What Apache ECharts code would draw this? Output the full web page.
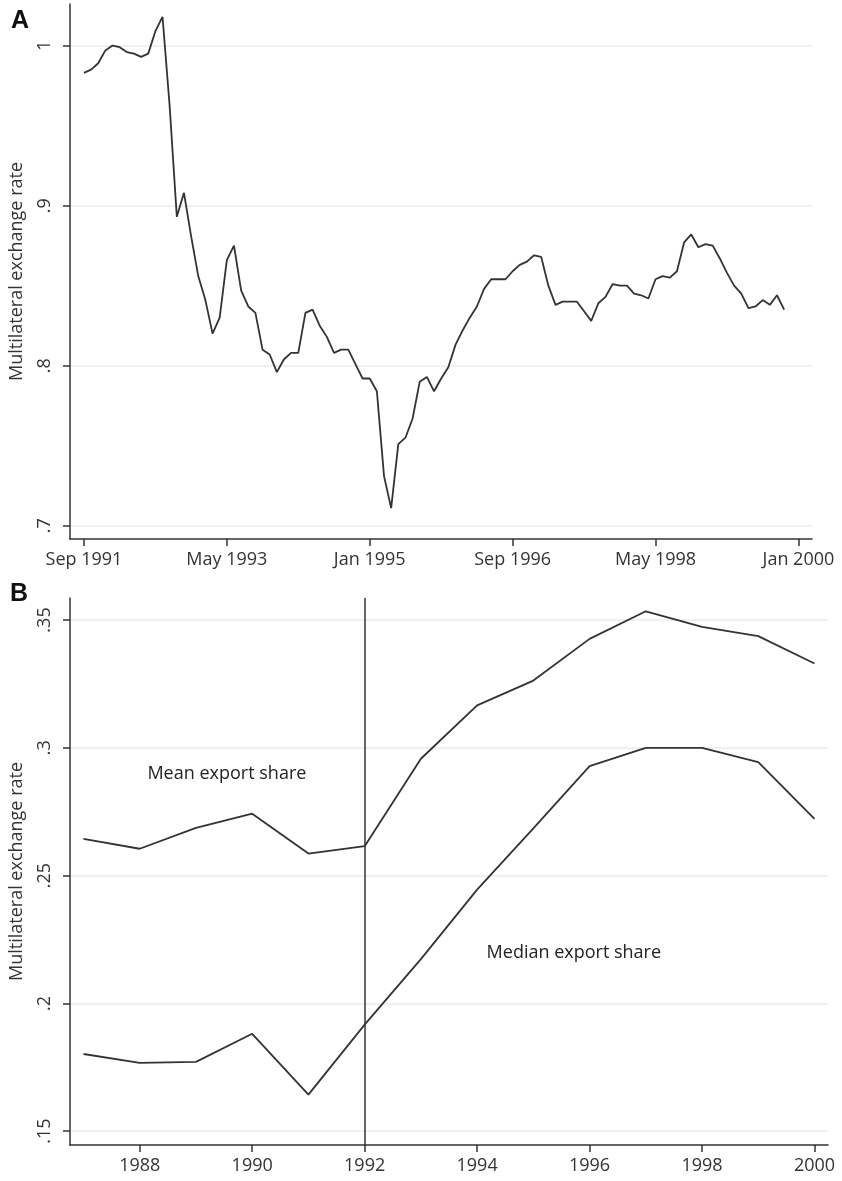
<!DOCTYPE html>
<html>
<head>
<meta charset="utf-8">
<script src="https://cdn.jsdelivr.net/npm/echarts@6/dist/echarts.min.js"></script>
<style>
  html, body { margin: 0; padding: 0; background: #fff; }
  #chart { width: 842px; height: 1181px; }
</style>
</head>
<body>
<div id="chart"></div>
<script>
// panel A: multilateral exchange rate, monthly from Sep 1991 (index 0)
var rateValues = [
  0.983, 0.985, 0.989, 0.997, 1.000, 0.999, 0.996, 0.995, 0.993, 0.995,
  1.009, 1.018, 0.962, 0.893, 0.908, 0.881, 0.856, 0.841, 0.820, 0.830,
  0.866, 0.875, 0.847, 0.837, 0.833, 0.810, 0.807, 0.796, 0.804, 0.808,
  0.808, 0.833, 0.835, 0.825, 0.818, 0.808, 0.810, 0.810, 0.801, 0.792,
  0.792, 0.784, 0.731, 0.711, 0.751, 0.755, 0.767, 0.790, 0.793, 0.784,
  0.792, 0.799, 0.813, 0.822, 0.830, 0.837, 0.848, 0.854, 0.854, 0.854,
  0.859, 0.863, 0.865, 0.869, 0.868, 0.850, 0.838, 0.840, 0.840, 0.840,
  0.834, 0.828, 0.839, 0.843, 0.851, 0.850, 0.850, 0.845, 0.844, 0.842,
  0.854, 0.856, 0.855, 0.859, 0.877, 0.882, 0.874, 0.876, 0.875, 0.867,
  0.858, 0.850, 0.845, 0.836, 0.837, 0.841, 0.838, 0.844, 0.835
];
var monthTicks = [0, 20, 40, 60, 80, 100];
var monthTickLabels = ['Sep 1991', 'May 1993', 'Jan 1995', 'Sep 1996', 'May 1998', 'Jan 2000'];
var rateTicks = [0.7, 0.8, 0.9, 1.0];

// panel B: export shares by year
var years = [1987, 1988, 1989, 1990, 1991, 1992, 1993, 1994, 1995, 1996, 1997, 1998, 1999, 2000];
var meanShare = [0.2644, 0.2605, 0.2687, 0.2742, 0.2586, 0.2615, 0.2957, 0.3166, 0.3263, 0.3426, 0.3534, 0.3473, 0.3437, 0.3330];
var medianShare = [0.1802, 0.1767, 0.1771, 0.1881, 0.1643, 0.1917, 0.2173, 0.2445, 0.2685, 0.2928, 0.3000, 0.3000, 0.2944, 0.2722];
var yearTicks = [1988, 1990, 1992, 1994, 1996, 1998, 2000];
var shareTicks = [0.15, 0.2, 0.25, 0.3, 0.35];
var breakYear = 1992;
// text annotations [year, value, text]
var notes = [
  [1989.55, 0.2896, 'Mean export share'],
  [1995.72, 0.2198, 'Median export share']
];

var font = 'Open Sans';
var ink = '#333';
var gridCol = '#ebebeb';

function stataNum(v) {
  // .8 instead of 0.8
  var s = String(Math.round(v * 1000) / 1000);
  if (s === '1') return '1';
  return s.replace(/^0/, '');
}

function yAxisCfg(idx, min, max, ticks) {
  return {
    type: 'value', gridIndex: idx, min: min, max: max,
    name: 'Multilateral exchange rate', nameLocation: 'middle', nameGap: 44,
    nameTextStyle: { fontFamily: font, fontSize: 18, color: ink },
    axisLine: { show: true, onZero: false, lineStyle: { color: ink, width: 1.5 } },
    axisTick: { show: true, length: 7, customValues: ticks, lineStyle: { color: ink, width: 1.5 } },
    axisLabel: { customValues: ticks, rotate: 90, margin: 16, fontFamily: font, fontSize: 18, color: ink,
      formatter: stataNum },
    splitLine: { show: true, lineStyle: { color: gridCol, width: 1.5 } }
  };
}

function xAxisCfg(idx, min, max, ticks, fmt) {
  return {
    type: 'value', gridIndex: idx, min: min, max: max,
    axisLine: { show: true, onZero: false, lineStyle: { color: ink, width: 1.5 } },
    axisTick: { show: true, length: 7, customValues: ticks, lineStyle: { color: ink, width: 1.5 } },
    axisLabel: { customValues: ticks, margin: 12, fontFamily: font, fontSize: 18, color: ink, formatter: fmt },
    splitLine: { show: false }
  };
}

var myChart = echarts.init(document.getElementById('chart'), null, { renderer: 'canvas' });

var option = {
  animation: false,
  backgroundColor: '#fff',
  title: [
    { text: 'A', left: 6, top: 4, textStyle: { fontFamily: 'Liberation Sans', fontWeight: 'bold', fontSize: 25, color: '#111' } },
    { text: 'B', left: 5, top: 577, textStyle: { fontFamily: 'Liberation Sans', fontWeight: 'bold', fontSize: 25, color: '#111' } }
  ],
  grid: [
    { left: 68, top: 4, width: 744, height: 535 },
    { left: 66, top: 598, width: 762, height: 547 }
  ],
  xAxis: [
    xAxisCfg(0, -1.95, 101.9, monthTicks, function (v) {
      var k = monthTicks.indexOf(Math.round(v));
      return k >= 0 ? monthTickLabels[k] : '';
    }),
    xAxisCfg(1, 1986.76, 2000.24, yearTicks, function (v) { return String(Math.round(v)); })
  ],
  yAxis: [
    yAxisCfg(0, 0.6917, 1.026, rateTicks),
    yAxisCfg(1, 0.1446, 0.3586, shareTicks)
  ],
  series: [
    {
      type: 'line', xAxisIndex: 0, yAxisIndex: 0, symbol: 'none',
      lineStyle: { color: ink, width: 1.8 },
      data: rateValues.map(function (v, i) { return [i, v]; })
    },
    {
      type: 'line', xAxisIndex: 1, yAxisIndex: 1, symbol: 'none',
      lineStyle: { color: ink, width: 1.8 },
      data: years.map(function (y, i) { return [y, meanShare[i]]; }),
      markLine: {
        silent: true, symbol: 'none', label: { show: false },
        lineStyle: { color: ink, width: 1.5, type: 'solid' },
        data: [{ xAxis: breakYear }]
      },
      markPoint: {
        symbol: 'circle', symbolSize: 0,
        label: { show: true, position: 'inside', fontFamily: font, fontSize: 18, color: '#222' },
        data: notes.map(function (n) { return { coord: [n[0], n[1]], value: n[2] }; })
      }
    },
    {
      type: 'line', xAxisIndex: 1, yAxisIndex: 1, symbol: 'none',
      lineStyle: { color: ink, width: 1.8 },
      data: years.map(function (y, i) { return [y, medianShare[i]]; })
    }
  ]
};

myChart.setOption(option);
</script>
</body>
</html>
